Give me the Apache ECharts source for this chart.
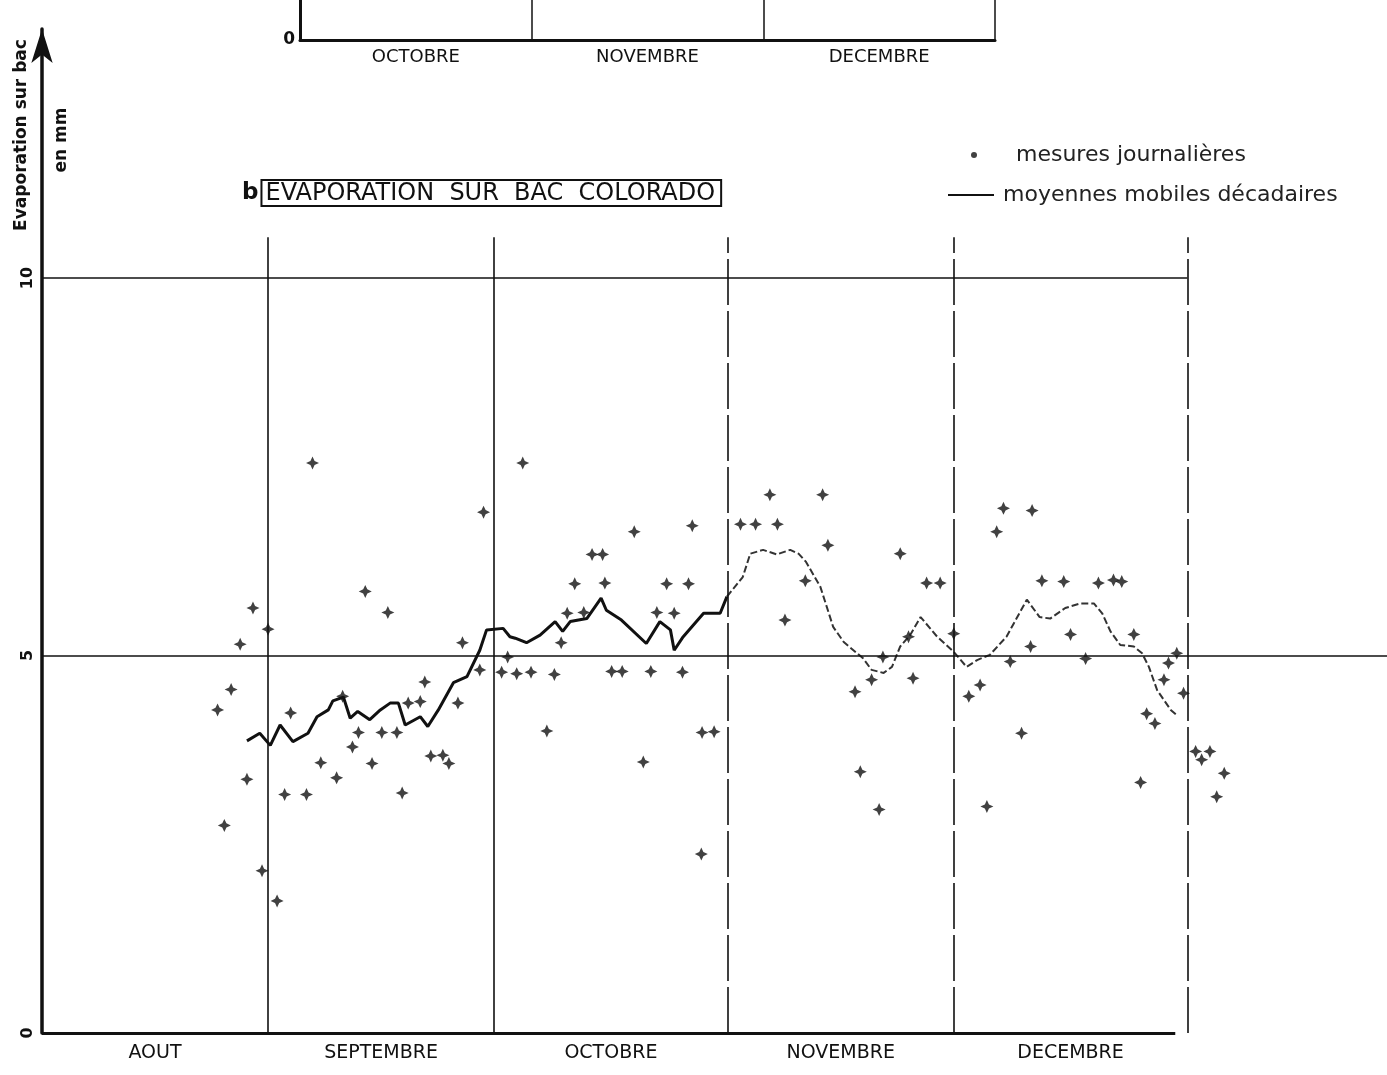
<!DOCTYPE html>
<html><head><meta charset="utf-8">
<script src="https://cdn.jsdelivr.net/npm/echarts@6/dist/echarts.min.js"></script>
<style>html,body{margin:0;padding:0;background:#fff}#c{width:1387px;height:1075px}</style>
</head><body><div id="c"></div>
<script>
// x values: day number counted from 1 August (1 Sep = 32, 1 Oct = 62, 1 Nov = 93, 1 Dec = 123, 1 Jan = 154)
const monthLabels = ['AOUT','SEPTEMBRE','OCTOBRE','NOVEMBRE','DECEMBRE'];
const monthCenters = [17, 47, 77.5, 108, 138.5];
const monthBounds = [32, 62, 93, 123, 154];
const topMonths = ['OCTOBRE','NOVEMBRE','DECEMBRE'];
const yTicks = [0, 5, 10];

const measureDays = [25.3,26.2,27.1,28.3,29.2,30.0,31.2,32.0,33.2,34.2,35.0,37.1,37.9,39.0,41.1,41.9,43.2,44.0,44.9,45.8,47.1,47.9,49.1,49.8,50.6,52.2,52.8,53.6,55.2,56.0,57.2,57.8,60.1,60.6,
63.0,63.8,65.0,65.8,66.9,69.0,70.0,70.9,71.7,72.7,73.9,75.0,76.4,76.7,77.6,79.0,80.6,81.8,82.8,83.6,84.9,85.9,87.0,87.8,88.3,89.5,89.6,91.2,94.7,
96.7,98.6,99.6,100.6,103.3,105.6,106.3,109.9,110.6,112.1,113.1,113.6,115.9,117.0,117.6,119.4,121.2,123.0,
125.0,126.5,127.4,128.7,129.6,130.5,132.0,133.2,133.4,134.7,137.6,138.5,140.5,142.2,144.2,145.3,146.9,147.8,148.6,149.7,150.9,151.5,152.6,153.5,155.1,155.9,157.0,158.9,157.9];
const measureValues = [4.28,2.75,4.55,5.15,3.36,5.63,2.15,5.35,1.75,3.16,4.24,3.16,7.55,3.58,3.38,4.46,3.79,3.98,5.85,3.57,3.98,5.57,3.98,3.18,4.37,4.39,4.65,3.67,3.68,3.57,4.37,5.17,4.81,6.90,
4.78,4.98,4.76,7.55,4.78,4.00,4.75,5.17,5.56,5.95,5.57,6.34,6.34,5.96,4.79,4.79,6.64,3.59,4.79,5.57,5.95,5.56,4.78,5.95,6.72,2.37,3.98,3.99,6.74,
6.74,7.13,6.74,5.47,5.99,7.13,6.46,4.52,3.46,4.68,2.96,4.98,6.35,5.25,4.70,5.96,5.96,5.29,
4.46,4.61,3.00,6.64,6.95,4.92,3.97,5.12,6.92,5.99,5.98,5.28,4.96,5.96,6.00,5.98,5.28,3.32,4.23,4.10,4.68,4.90,5.03,4.50,3.73,3.62,3.73,3.44,3.13];

const avgDays = [29.2,30.9,32.3,33.6,35.3,37.3,38.5,40.0,40.6,42.0,42.9,43.9,45.5,46.9,48.2,49.3,50.2,52.2,53.2,54.6,56.6,58.4,60.1,61.0,63.2,64.1,64.8,66.3,68.1,70.1,71.1,72.1,74.3,76.2,76.9,78.9,82.2,84.0,85.4,85.9,87.1,89.8,92.0,92.9,
95.0,96.0,97.7,99.5,101.3,102.4,103.4,105.3,107.0,108.4,111.0,112.1,113.7,114.8,115.9,117.2,118.6,120.8,123.0,124.7,126.1,127.8,130.0,132.7,134.4,135.8,137.8,139.8,141.6,142.7,143.8,145.1,146.9,148.0,148.9,150.0,151.8,152.6];
const avgValues = [3.87,3.97,3.81,4.08,3.86,3.97,4.19,4.28,4.40,4.45,4.17,4.26,4.15,4.28,4.37,4.37,4.08,4.19,4.06,4.28,4.64,4.72,5.07,5.34,5.36,5.25,5.23,5.17,5.27,5.45,5.32,5.45,5.49,5.76,5.60,5.47,5.16,5.45,5.34,5.07,5.25,5.56,5.56,5.78,
6.04,6.35,6.40,6.34,6.40,6.35,6.24,5.91,5.38,5.18,4.96,4.81,4.77,4.85,5.12,5.27,5.51,5.25,5.05,4.85,4.94,5.01,5.25,5.74,5.51,5.49,5.63,5.69,5.69,5.56,5.32,5.14,5.12,5.03,4.85,4.54,4.28,4.21];
const avgSplitDay = 92.9; // after this the trace is faint in the original

const NAME_M = 'mesures journalières';
const NAME_A = 'moyennes mobiles décadaires';
const FONT = 'DejaVu Sans';

const scatterData = measureDays.map((d, i) => [d, measureValues[i]]);
const avgAll = avgDays.map((d, i) => [d, avgValues[i]]);
const avgA = avgAll.filter(p => p[0] <= avgSplitDay);
const avgB = avgAll.filter(p => p[0] >= avgSplitDay);

const star = 'path://M0,-6 L1.9,-1.9 L6,0 L1.9,1.9 L0,6 L-1.9,1.9 L-6,0 L-1.9,-1.9 Z';

const lineTop = 10.54;
const markData = [];
monthBounds.forEach((b, i) => {
  markData.push([{coord: [b, 0], lineStyle: {color: '#111', width: 1.6, type: i < 2 ? 'solid' : [46, 6]}}, {coord: [b, lineTop]}]);
});
markData.push([{coord: [2, 10], lineStyle: {color: '#111', width: 1.6, type: 'solid'}}, {coord: [154, 10]}]);
markData.push([{coord: [2, 5], lineStyle: {color: '#111', width: 1.6, type: 'solid'}}, {coord: [180.5, 5]}]);
markData.push([{coord: [2, 0], lineStyle: {color: '#111', width: 3, type: 'solid'}}, {coord: [152.4, 0]}]);

const chart = echarts.init(document.getElementById('c'), null, {renderer: 'canvas'});
chart.setOption({
  backgroundColor: '#fff',
  animation: false,
  textStyle: {fontFamily: FONT, color: '#111'},
  title: {
    left: 237, top: 175,
    text: '{l|b}{box|EVAPORATION  SUR  BAC  COLORADO}',
    textStyle: {
      fontWeight: 'normal',
      rich: {
        l: {fontFamily: FONT, fontSize: 23, fontWeight: 'bold', color: '#111', padding: [0, 3, 0, 0]},
        box: {fontFamily: FONT, fontSize: 24, fontWeight: 'normal', color: '#111', borderColor: '#111', borderWidth: 2, padding: [2, 6, 0, 4]}
      }
    }
  },
  legend: [
    {data: [{name: NAME_M, icon: 'circle'}], left: 966, top: 139, itemWidth: 6, itemHeight: 6,
     textStyle: {fontFamily: FONT, fontSize: 22, color: '#222', padding: [0, 0, 0, 34]}},
    {data: [{name: NAME_A, icon: 'rect'}], left: 943, top: 179, itemWidth: 46, itemHeight: 2,
     textStyle: {fontFamily: FONT, fontSize: 22, color: '#222', padding: [0, 0, 0, 4]}}
  ],
  grid: [
    {left: 42, right: 0, top: 29, bottom: 42, containLabel: false, outerBoundsMode: 'none'},
    {left: 300, width: 695, top: -200, height: 240, containLabel: false, outerBoundsMode: 'none'}
  ],
  xAxis: [
    {
      type: 'value', gridIndex: 0, min: 2, max: 180.5,
      axisLine: {show: false}, axisTick: {show: false}, splitLine: {show: false},
      axisLabel: {
        customValues: monthCenters, margin: 11,
        fontFamily: FONT, fontSize: 19, color: '#111',
        formatter: v => {
          let k = 0, best = 1e9;
          monthCenters.forEach((c, i) => { if (Math.abs(c - v) < best) { best = Math.abs(c - v); k = i; } });
          return monthLabels[k];
        }
      }
    },
    {
      type: 'category', gridIndex: 1, data: topMonths, boundaryGap: true,
      axisLine: {show: true, lineStyle: {color: '#111', width: 3}},
      axisTick: {show: false},
      splitLine: {show: true, interval: 0, lineStyle: {color: '#111', width: 1.5}},
      axisLabel: {interval: 0, margin: 8, fontFamily: FONT, fontSize: 18, color: '#111'}
    }
  ],
  yAxis: [
    {
      type: 'value', gridIndex: 0, min: 0, max: 13.3, interval: 5,
      axisLine: {show: true, lineStyle: {color: '#111', width: 3.5}, symbol: ['none', 'arrow'], symbolSize: [16, 34], symbolOffset: [0, 0]},
      axisTick: {show: false}, splitLine: {show: false},
      axisLabel: {
        margin: 6, rotate: 90, fontFamily: FONT, fontSize: 16, fontWeight: 'bold', color: '#111',
        showMaxLabel: false,
        formatter: v => (yTicks.indexOf(v) >= 0 ? String(v) : '')
      }
    },
    {
      type: 'value', gridIndex: 1, min: 0, max: 1, interval: 1,
      axisLine: {show: true, lineStyle: {color: '#111', width: 3}},
      axisTick: {show: false}, splitLine: {show: false},
      axisLabel: {margin: 5, fontFamily: FONT, fontSize: 17, fontWeight: 'bold', color: '#111',
        formatter: v => (v === 0 ? '0' : '')}
    }
  ],
  graphic: [
    {type: 'text', x: 22, y: 135, rotation: Math.PI / 2,
     style: {text: 'Evaporation sur bac', fontFamily: FONT, fontSize: 17, fontWeight: 'bold', fill: '#111', align: 'center', verticalAlign: 'middle'}},
    {type: 'text', x: 62, y: 140, rotation: Math.PI / 2,
     style: {text: 'en mm', fontFamily: FONT, fontSize: 17, fontWeight: 'bold', fill: '#111', align: 'center', verticalAlign: 'middle'}}
  ],
  series: [
    {
      name: NAME_M, type: 'scatter', xAxisIndex: 0, yAxisIndex: 0,
      data: scatterData, symbol: star, symbolSize: 13,
      itemStyle: {color: '#111'},
      markLine: {silent: true, symbol: 'none', label: {show: false}, animation: false, data: markData},
      z: 5
    },
    {
      name: NAME_A, type: 'line', xAxisIndex: 0, yAxisIndex: 0,
      data: avgA, symbol: 'none', lineStyle: {color: '#111', width: 3}, itemStyle: {color: '#111'}, z: 4
    },
    {
      name: NAME_A, type: 'line', xAxisIndex: 0, yAxisIndex: 0,
      data: avgB, symbol: 'none', lineStyle: {color: '#333', width: 2, type: [7, 3]}, itemStyle: {color: '#333'}, z: 4
    },
    {
      type: 'scatter', xAxisIndex: 1, yAxisIndex: 1, data: [], silent: true
    }
  ]
});
</script>
</body></html>
